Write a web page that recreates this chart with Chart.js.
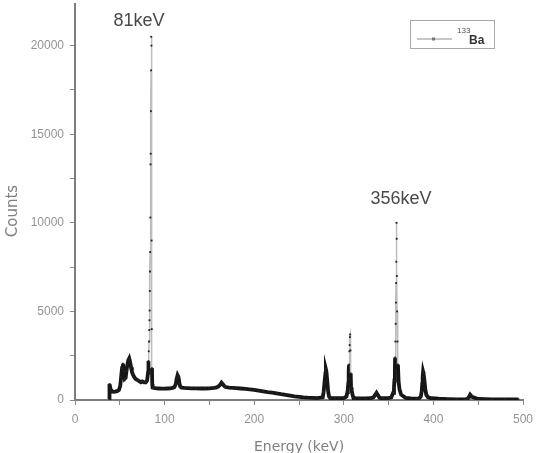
<!DOCTYPE html>
<html>
<head>
<meta charset="utf-8">
<script src="https://cdn.jsdelivr.net/npm/chart.js@4.4.0/dist/chart.umd.min.js"></script>
<style>
  html, body { margin: 0; padding: 0; background: #fff; }
  #wrap { width: 536px; height: 453px; position: relative; }
</style>
</head>
<body>
<div id="wrap"><canvas id="spectrumChart"></canvas></div>
<script>
// 133Ba gamma spectrum
const energyKeV = [
  38, 38.5, 39.5, 41, 43, 45, 47, 49, 50.5, 51.5, 52.5, 53.5, 54.5, 55.5, 56.5, 57.5, 58.5, 59.5,
  60.5, 61.5, 62.5, 63.5, 64.5, 66, 67.5, 69, 70.5, 72, 73.5, 75, 77, 79, 80.5, 81.5, 82, 82.3,
  82.6, 82.9, 83.1, 83.3, 83.5, 83.7, 83.9, 84.1, 84.3, 84.5, 84.7, 84.9, 85.1, 85.3, 85.5, 85.7,
  85.9, 86.2, 86.6, 88, 91, 94, 97, 100, 103, 106, 109, 111, 112.5, 113.5, 114.5, 115.5, 116.5,
  117.5, 119, 122, 126, 130, 135, 140, 145, 150, 155, 158, 160, 162, 163.5, 165, 166.5, 168, 172,
  176, 180, 185, 190, 195, 200, 205, 210, 215, 220, 225, 230, 235, 240, 245, 250, 255, 260, 265,
  270, 276.5, 277.5, 278.5, 279.5, 280, 280.5, 281.5, 282.5, 283.5, 285, 290, 295, 300, 303, 304,
  304.5, 305, 305.3, 305.6, 305.9, 306.2, 306.5, 306.8, 307.1, 307.4, 307.7, 308.1, 308.8, 309.5,
  310.5, 313, 318, 324, 330, 333, 335, 336.5, 338, 340, 344, 349, 353, 355, 356, 356.5, 357,
  357.3, 357.6, 357.9, 358.2, 358.4, 358.6, 358.8, 359, 359.2, 359.5, 359.9, 360.4, 361.2, 362.2,
  364, 369, 375, 381, 384, 386, 387, 387.5, 388, 388.5, 389, 390, 391, 392, 394, 398, 406, 416,
  426, 435, 438, 439.5, 441, 443, 450, 465, 480, 495
];
const counts = [
  60, 900, 650, 500, 460, 470, 500, 560, 800, 1300, 1800, 2050, 1600, 1200, 1250, 1650, 2000, 2250,
  2350, 2150, 1850, 1600, 1450, 1300, 1200, 1150, 1100, 1050, 1000, 1050, 1000, 1000, 1100, 1540, 2200, 2750,
  3300, 3950, 4500, 5050, 6150, 7250, 8350, 10300, 13300, 13900, 16300, 18600, 20500, 20000, 9000, 4000,
  1800, 900, 700, 680, 660, 650, 640, 640, 650, 660, 680, 730, 900, 1200, 1400, 1300, 950,
  760, 700, 680, 670, 660, 660, 650, 650, 660, 680, 710, 770, 860, 980, 890, 790, 730, 700,
  690, 670, 650, 630, 600, 570, 530, 490, 450, 420, 380, 330, 290, 250, 210, 180, 150, 130, 120,
  110, 150, 450, 1000, 1500, 1750, 1650, 1100, 500, 200, 110, 100, 100, 110, 200, 450,
  650, 930, 1200, 1650, 2000, 2750, 3100, 3550, 3700, 2800, 1500, 700, 550, 350,
  150, 100, 90, 90, 100, 150, 280, 400, 280, 120, 100, 100, 150, 400, 700, 1100, 1700,
  2400, 3300, 4300, 5500, 6600, 7800, 10000, 9100, 7000, 5000, 3300, 2000, 1000, 600, 300,
  120, 90, 80, 90, 200, 500, 900, 1300, 1600, 1500, 1100, 600, 300, 150, 100, 70, 50, 40,
  40, 60, 150, 300, 180, 60, 40, 30, 30, 30
];

// tick marks (labels only on the major ones)
const xTickValues = [0, 50, 100, 150, 200, 250, 300, 350, 400, 450, 500];
const xTickLabels = ['0', '', '100', '', '200', '', '300', '', '400', '', '500'];
const yTickValues = [0, 2500, 5000, 7500, 10000, 12500, 15000, 17500, 20000];
const yTickLabels = ['0', '', '5000', '', '10000', '', '15000', '', '20000'];

const peakLabels = ['81keV', '356keV'];
const peakLabelEnergy = [71.4, 363.8];
const peakLabelCounts = [21120, 11060];

const xRange = [0, 500];
const yRange = [0, 22350];

const spectrumPoints = energyKeV.map((e, i) => ({ x: e, y: counts[i] }));

const labelFont = { family: '"Liberation Sans", Arial, sans-serif', size: 12 };

function setTicks(values) {
  return s => { s.ticks = values.map(v => ({ value: v })); };
}

// Axis titles, peak labels and the small legend box with the superscript isotope name
const annotatePlugin = {
  id: 'annotate',
  afterDraw(chart) {
    const { ctx, scales: { x, y } } = chart;
    ctx.save();
    ctx.font = '18px "Liberation Sans", Arial, sans-serif';
    ctx.fillStyle = '#484848';
    ctx.textAlign = 'center';
    ctx.textBaseline = 'alphabetic';
    peakLabels.forEach((t, i) => {
      ctx.fillText(t, x.getPixelForValue(peakLabelEnergy[i]), y.getPixelForValue(peakLabelCounts[i]));
    });

    // axis titles
    ctx.fillStyle = '#808080';
    ctx.font = '14px "DejaVu Sans", sans-serif';
    ctx.fillText('Energy (keV)', (x.left + x.right) / 2, 451);
    ctx.save();
    ctx.translate(17, 211);
    ctx.rotate(-Math.PI / 2);
    ctx.font = '15px "DejaVu Sans", sans-serif';
    ctx.fillText('Counts', 0, 0);
    ctx.restore();

    // legend
    ctx.strokeStyle = '#a8a8a8';
    ctx.lineWidth = 1;
    ctx.strokeRect(410.5, 20.5, 84, 28);
    ctx.strokeStyle = '#b5b5b5';
    ctx.lineWidth = 1.5;
    ctx.beginPath();
    ctx.moveTo(417, 39);
    ctx.lineTo(452, 39);
    ctx.stroke();
    ctx.fillStyle = '#777';
    ctx.fillRect(432, 37.5, 3, 3);
    ctx.fillStyle = '#555';
    ctx.textAlign = 'left';
    ctx.font = '8px "Liberation Sans", Arial, sans-serif';
    ctx.fillText('133', 457, 33);
    ctx.fillStyle = '#333';
    ctx.font = 'bold 12px "Liberation Sans", Arial, sans-serif';
    ctx.fillText('Ba', 469, 44);
    ctx.restore();
  }
};

new Chart(document.getElementById('spectrumChart'), {
  type: 'line',
  data: {
    datasets: [{
      label: '133Ba',
      data: spectrumPoints,
      borderColor: '#151515',
      borderWidth: 3.5,
      pointRadius: 1.3,
      pointStyle: 'rect',
      pointBackgroundColor: '#222',
      pointBorderWidth: 0,
      tension: 0,
      segment: {
        borderColor: c => (Math.max(c.p0.parsed.y, c.p1.parsed.y) > 2400 ? '#bdbdbd' : '#151515'),
        borderWidth: c => (Math.max(c.p0.parsed.y, c.p1.parsed.y) > 2400 ? 1.5 : 3.8)
      }
    }]
  },
  options: {
    responsive: true,
    maintainAspectRatio: false,
    animation: false,
    layout: { padding: { left: 0, right: 13, top: 0, bottom: 0 } },
    plugins: {
      legend: { display: false },
      tooltip: { enabled: false }
    },
    scales: {
      x: {
        type: 'linear',
        min: xRange[0],
        max: xRange[1],
        border: { color: '#7d7d7d', width: 2 },
        grid: { drawOnChartArea: false, drawTicks: true, tickLength: 5, tickColor: '#8a8a8a' },
        afterBuildTicks: setTicks(xTickValues),
        ticks: {
          autoSkip: false,
          maxRotation: 0,
          padding: 7,
          color: '#949494',
          font: labelFont,
          callback: (v, i) => xTickLabels[i]
        },
        afterFit: s => { s.height = 53; s.paddingLeft = 0; s.paddingRight = 0; }
      },
      y: {
        min: yRange[0],
        max: yRange[1],
        border: { color: '#7d7d7d', width: 2 },
        grid: { drawOnChartArea: false, drawTicks: true, tickLength: 5, tickColor: '#8a8a8a' },
        afterBuildTicks: setTicks(yTickValues),
        ticks: {
          autoSkip: false,
          padding: 6,
          color: '#949494',
          font: labelFont,
          callback: (v, i) => yTickLabels[i]
        },
        afterFit: s => { s.width = 75; s.paddingTop = 0; s.paddingBottom = 0; }
      }
    }
  },
  plugins: [annotatePlugin]
});
</script>
</body>
</html>
